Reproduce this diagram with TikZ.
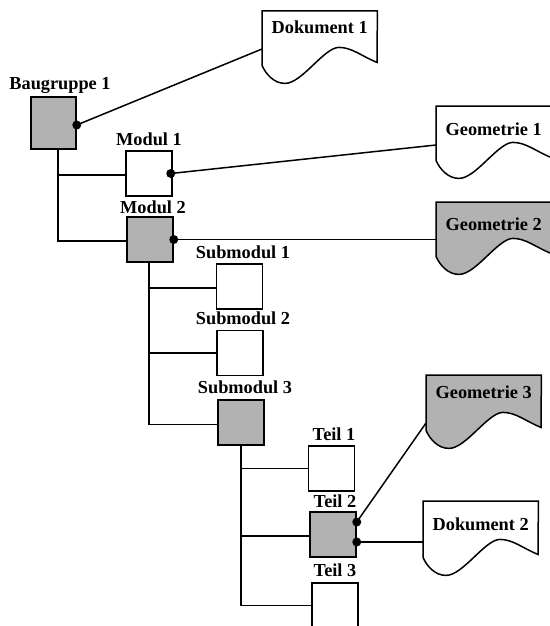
\documentclass[tikz,border=0pt]{standalone}
\usepackage{fontspec}
\setmainfont{Liberation Serif}
\usetikzlibrary{calc,backgrounds}
\definecolor{boxgray}{gray}{0.70}
\tikzset{
  lbl/.style={font=\bfseries\fontsize{18.3}{20}\selectfont, anchor=base, inner sep=0pt},
  item/.style={draw, line width=1.5pt, minimum width=46pt, minimum height=45pt, inner sep=0pt},
  filled/.style={fill=boxgray},
  doc/.style={anchor=north west, minimum width=115pt, minimum height=54pt, inner sep=0pt,
    font=\bfseries\fontsize{18.3}{20}\selectfont, text height=13pt},
  docline/.style={draw, line width=1.5pt, fill=white},
  conn/.style={line width=1.5pt},
  dot/.style={fill=black}
}
\newcommand\docoutline[2][]{%
  \draw[docline,#1] (#2.north west) -- (#2.north east) -- ($(#2.south west)+(115,-3)$)
   .. controls ($(#2.south west)+(100,-9)$) and ($(#2.south west)+(90,-18)$) .. ($(#2.south west)+(77,-18)$)
   .. controls ($(#2.south west)+(62,-18)$) and ($(#2.south west)+(40,18)$) .. ($(#2.south west)+(23,18)$)
   .. controls ($(#2.south west)+(12,18)$) and ($(#2.south west)+(4,9)$) .. (#2.south west) -- cycle;}
\begin{document}
\begin{tikzpicture}[x=1pt,y=-1pt]
\useasboundingbox (0,0) rectangle (549,626);
% boxes
\node[item,filled,minimum width=45pt,minimum height=52pt] (b1) at (53.5,123) {};
\node[item] (m1) at (149,173.5) {};
\node[item,filled] (m2) at (150,239.5) {};
\node[item] (s1) at (239.5,286.5) {};
\node[item] (s2) at (240,353) {};
\node[item,filled] (s3) at (241,422.5) {};
\node[item] (t1) at (331.5,468.5) {};
\node[item,filled] (t2) at (333,534.5) {};
\node[item] (t3) at (335,605.5) {};
% labels
\node[lbl] (lb1) at (60,89) {Baugruppe 1};
\node[lbl] (lm1) at (149,145) {Modul 1};
\node[lbl] (lm2) at (153,213) {Modul 2};
\node[lbl] (ls1) at (243,258) {Submodul 1};
\node[lbl] (ls2) at (243,324) {Submodul 2};
\node[lbl] (ls3) at (245,393) {Submodul 3};
\node[lbl] (lt1) at (334,440) {Teil 1};
\node[lbl] (lt2) at (335,507) {Teil 2};
\node[lbl] (lt3) at (335,576) {Teil 3};
% documents
\node[doc,text depth=23pt] (doc1) at (262,11) {Dokument 1};
\node[doc,text depth=9pt] (geo1) at (436,106) {Geometrie 1};
\node[doc,text depth=11pt] (geo2) at (436,202) {Geometrie 2};
\node[doc,text depth=21pt,minimum height=55pt] (geo3) at (426,375) {Geometrie 3};
\node[doc,text depth=11pt,minimum height=56pt] (doc2) at (423,501) {Dokument 2};
\begin{scope}[on background layer]
\docoutline{doc1}
\docoutline{geo1}
\docoutline[fill=boxgray]{geo2}
\docoutline[fill=boxgray]{geo3}
\docoutline{doc2}
\end{scope}
% tree connectors
\draw[conn] ([xshift=4.5pt]b1.south) |- ([yshift=-1.5pt]m1.west);
\draw[conn] ([xshift=4.5pt]b1.south) |- ([yshift=-1.5pt]m2.west);
\draw[conn] ([xshift=-1pt]m2.south) |- ([yshift=-1.5pt]s1.west);
\draw[conn] ([xshift=-1pt]m2.south) |- (s2.west);
\draw[conn] ([xshift=-1pt]m2.south) |- ([yshift=-2pt]s3.west);
\draw[conn] (s3.south) |- (t1.west);
\draw[conn] (s3.south) |- ([yshift=-1.5pt]t2.west);
\draw[conn] (s3.south) |- (t3.west);
% reference connectors
\coordinate (p1) at ([yshift=-2pt]b1.east);
\coordinate (p2) at ([xshift=-2pt]m1.east);
\coordinate (p3) at (m2.east);
\coordinate (p4) at ([yshift=12.5pt]t2.east);
\coordinate (p5) at ([yshift=-7.5pt]t2.east);
\draw[conn] (p1) -- ($(doc1.north west)+(0,38)$);
\draw[conn] (p2) -- ($(geo1.north west)+(0,39)$);
\draw[conn] (p3) -- (p3 -| geo2.west);
\draw[conn] (p4) -- ($(geo3.north west)+(0,48)$);
\draw[conn] (p5) -- (p5 -| doc2.west);
\foreach \p in {p1,p2,p3,p4,p5} \fill[dot] (\p) circle (4.5pt);
\end{tikzpicture}
\end{document}
